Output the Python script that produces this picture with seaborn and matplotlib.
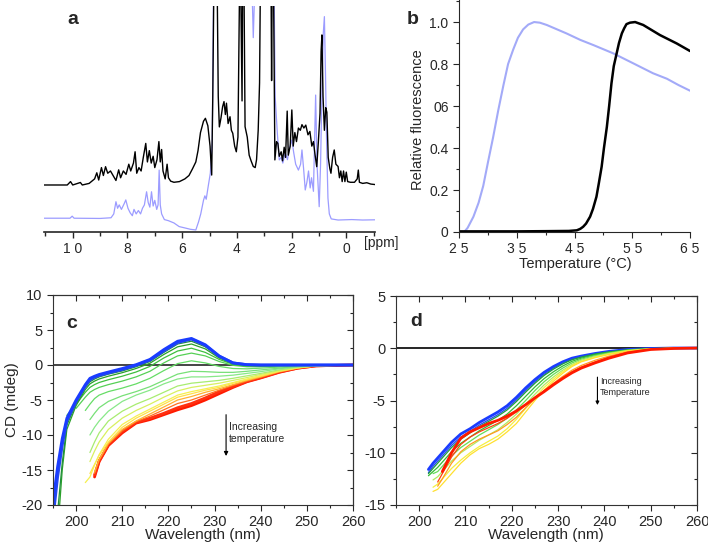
import numpy as np
import matplotlib
matplotlib.use("Agg")
import matplotlib.pyplot as plt
import seaborn as sns

N = np.nan

# ---- panel a: 1H NMR spectra (height above the axis, arbitrary units; >100 is off scale) ----
ppm_black = [11.05, 10.2, 10.08, 10.0, 9.72, 9.65, 9.4, 9.2, 9.12, 9.05, 8.95, 8.88, 8.8, 8.72, 8.62,
             8.5, 8.42, 8.32, 8.25, 8.15, 8.05, 7.95, 7.88, 7.78, 7.72, 7.66, 7.58, 7.5, 7.42, 7.33,
             7.27, 7.2, 7.13, 7.06, 7.0, 6.92, 6.85, 6.8, 6.75, 6.7, 6.62, 6.55, 6.5, 6.42, 6.3,
             6.1, 5.9, 5.75, 5.62, 5.5, 5.42, 5.33, 5.22, 5.15, 5.06, 4.98, 4.92, 4.88, 4.84, 4.72,
             4.68, 4.64, 4.58, 4.52, 4.47, 4.42, 4.38, 4.32, 4.25, 4.2, 4.15, 4.08, 4.02, 3.96, 3.9,
             3.86, 3.81, 3.79, 3.74, 3.7, 3.62, 3.55, 3.48, 3.4, 3.33, 3.28, 3.22, 3.17, 3.14, 2.75,
             2.73, 2.71, 2.66, 2.61, 2.55, 2.5, 2.45, 2.38, 2.33, 2.27, 2.22, 2.16, 2.12, 2.05, 1.99,
             1.94, 1.88, 1.82, 1.75, 1.68, 1.62, 1.55, 1.48, 1.4, 1.33, 1.26, 1.2, 1.14, 1.08, 1.02,
             0.96, 0.92, 0.89, 0.85, 0.8, 0.75, 0.71, 0.66, 0.6, 0.56, 0.5, 0.44, 0.38, 0.3, 0.25,
             0.2, 0.15, 0.1, 0.05, 0.0, -0.05, -0.15, -0.3, -0.4, -0.44, -0.48, -0.6, -0.75, -0.9, -1.05]
int_black = [20.8, 20.8, 22.3, 20.8, 21.9, 20.8, 21.5, 23.5, 26.2, 23.0, 28.5, 25.0, 28.9, 26.0, 27.0,
             24.5, 22.8, 27.5, 24.0, 27.0, 25.5, 30.0, 27.0, 30.5, 35.5, 26.0, 28.5, 27.0, 33.0, 39.2,
             31.0, 36.0, 30.5, 33.5, 28.5, 32.0, 40.0, 31.0, 36.5, 27.0, 23.5, 30.0, 24.0, 22.5, 22.0,
             22.3, 23.5, 25.0, 28.0, 31.0, 36.0, 44.0, 49.0, 50.3, 47.0, 38.0, 25.2, 60.0, 110, 110,
             60.0, 46.5, 50.5, 55.5, 57.7, 52.0, 57.0, 48.0, 51.0, 45.0, 43.7, 38.0, 35.5, 42.0, 110,
             110, 58.0, 110, 110, 46.6, 42.0, 34.0, 31.5, 29.0, 28.5, 32.0, 45.0, 66.0, 110, 110,
             67.0, 110, 110, 31.9, 40.0, 39.2, 33.5, 35.5, 31.5, 37.5, 33.0, 53.5, 34.0, 38.0, 54.0,
             38.0, 44.0, 40.0, 46.0, 45.0, 47.5, 46.0, 47.3, 43.0, 44.5, 38.0, 40.0, 34.0, 28.9, 40.0,
             52.5, 80.0, 87.2, 60.0, 45.0, 55.0, 53.0, 33.0, 28.0, 26.0, 33.0, 36.3, 30.0, 29.0, 24.0,
             27.0, 22.3, 27.0, 22.3, 26.5, 22.3, 22.0, 22.0, 23.5, 27.4, 22.0, 21.5, 21.8, 21.2, 21.0]

ppm_blue = [11.05, 10.1, 10.02, 9.95, 9.0, 8.6, 8.5, 8.42, 8.36, 8.3, 8.22, 8.12, 8.06, 7.98, 7.9,
            7.82, 7.76, 7.68, 7.6, 7.52, 7.45, 7.38, 7.3, 7.24, 7.18, 7.12, 7.06, 7.0, 6.93, 6.88,
            6.84, 6.8, 6.75, 6.65, 6.5, 6.3, 6.11, 5.9, 5.7, 5.5, 5.4, 5.32, 5.22, 5.17, 5.12,
            5.05, 4.97, 4.9, 4.85, 3.45, 3.4, 3.34, 2.64, 2.6, 2.52, 2.45, 2.38, 2.32, 2.23, 2.15,
            2.08, 1.99, 1.92, 1.85, 1.75, 1.67, 1.62, 1.56, 1.5, 1.44, 1.38, 1.32, 1.27, 1.2, 1.15,
            1.12, 1.07, 0.99, 0.94, 0.9, 0.84, 0.8, 0.76, 0.72, 0.67, 0.62, 0.55, 0.3, -0.2, -0.6, -1.05]
int_blue = [6.1, 6.1, 7.0, 6.1, 6.0, 6.3, 8.0, 13.4, 10.5, 12.0, 10.0, 12.5, 14.2, 10.5, 8.5,
            7.2, 10.0, 8.0, 9.5, 8.0, 10.5, 12.0, 17.8, 13.0, 11.0, 17.8, 11.5, 14.0, 10.0, 12.0,
            27.4, 12.0, 8.0, 5.5, 5.0, 4.0, 2.4, 1.8, 1.2, 0.9, 4.5, 8.0, 14.0, 16.0, 14.5,
            20.0, 26.0, 40.0, 110, 110, 86.0, 110, 110, 60.0, 43.7, 31.9, 33.0, 30.5, 35.0, 32.0,
            37.0, 40.7, 35.0, 30.0, 27.4, 30.0, 36.3, 28.0, 18.6, 22.0, 27.0, 19.5, 24.0, 18.0, 45.0,
            60.6, 30.0, 11.2, 30.0, 55.0, 88.0, 95.3, 70.0, 40.0, 15.0, 8.0, 5.8, 5.3, 5.5, 5.3, 5.4]

# ---- panel b: relative fluorescence vs temperature ----
temp_blue = [25.9, 26.5, 27.5, 28.4, 29.2, 30.0, 30.9, 31.8, 32.7, 33.5, 34.4, 35.2, 36.1, 37.0, 38.0,
             39.0, 40.2, 43.6, 46.0, 48.3, 51.7, 55.2, 58.6, 61.0, 63.0, 65.0]
fluo_blue = [0.0, 0.02, 0.073, 0.14, 0.22, 0.33, 0.45, 0.58, 0.7, 0.8, 0.87, 0.925, 0.965, 0.988, 1.0,
             0.997, 0.986, 0.946, 0.915, 0.89, 0.851, 0.803, 0.756, 0.73, 0.7, 0.673]
temp_black = [25.0, 30.0, 35.0, 40.0, 44.0, 45.4, 46.0, 46.5, 47.0, 47.7, 48.2, 48.8, 49.2, 49.7, 50.1,
              50.6, 51.0, 51.4, 51.8, 52.3, 52.7, 53.2, 53.6, 54.0, 54.6, 55.5, 56.9, 59.8, 62.7, 65.0]
fluo_black = [0.003, 0.003, 0.003, 0.004, 0.005, 0.008, 0.015, 0.025, 0.04, 0.073, 0.11, 0.168, 0.23, 0.311, 0.4,
              0.5, 0.6, 0.708, 0.79, 0.851, 0.9, 0.946, 0.97, 0.99, 0.997, 1.0, 0.986, 0.938, 0.898, 0.862]

# ---- panel c: CD spectra, low -> high temperature ----
wl_c = [195, 196, 197, 198, 200, 202, 203, 204, 205, 207, 210, 213, 216, 219, 222, 225, 228, 231, 234,
        237, 240, 244, 248, 252, 260]
cd_c = [
    [-19.5, -14.5, -10.5, -7.6, -5.0, -2.8, -1.9, -1.6, -1.35, -1.0, -0.5, 0.05, 0.8, 2.2, 3.4, 3.8, 2.9, 1.3, 0.3, 0.05, 0, 0, 0, 0, 0],
    [-22, -16, -11.5, -8.0, -5.2, -3.0, -2.1, -1.75, -1.5, -1.15, -0.65, -0.05, 0.7, 2.0, 3.2, 3.7, 2.8, 1.25, 0.3, 0.05, 0, 0, 0, 0, 0],
    [N, -21, -14, -8.6, -5.5, -3.2, -2.4, -2.0, -1.7, -1.3, -0.85, -0.25, 0.5, 1.8, 3.0, 3.4, 2.6, 1.15, 0.25, 0.0, -0.05, 0, 0, 0, 0],
    [N, -24, -15, -9.2, -5.8, -3.5, -2.7, -2.3, -2.0, -1.6, -1.1, -0.5, 0.25, 1.5, 2.6, 3.0, 2.3, 1.0, 0.2, -0.05, -0.1, -0.05, 0, 0, 0],
    [N, N, N, -7.2, -5.6, -3.9, -3.2, -2.8, -2.5, -2.1, -1.6, -1.0, -0.2, 1.0, 2.0, 2.4, 1.8, 0.8, 0.1, -0.15, -0.15, -0.1, -0.05, 0, 0],
    [N, N, N, N, -6.2, -4.6, -3.9, -3.5, -3.2, -2.8, -2.3, -1.7, -0.9, 0.3, 1.3, 1.7, 1.3, 0.5, -0.05, -0.25, -0.25, -0.15, -0.05, 0, 0],
    [N, N, N, N, N, -6.5, -5.6, -4.8, -4.3, -3.8, -3.3, -2.7, -1.9, -0.8, 0.2, 0.6, 0.3, -0.2, -0.5, -0.55, -0.45, -0.3, -0.15, -0.05, 0],
    [N, N, N, N, N, N, -7.8, -6.9, -6.1, -5.2, -4.4, -3.8, -3.1, -2.2, -1.3, -0.9, -0.95, -1.05, -1.05, -0.9, -0.7, -0.45, -0.2, -0.05, 0],
    [N, N, N, N, N, N, -10.0, -8.9, -8.0, -6.6, -5.2, -4.3, -3.6, -2.7, -2.0, -1.7, -1.7, -1.6, -1.45, -1.2, -0.95, -0.55, -0.25, -0.08, 0],
    [N, N, N, N, N, N, -12.5, -11.0, -9.7, -8.0, -6.6, -5.6, -4.8, -3.9, -3.0, -2.6, -2.4, -2.2, -1.9, -1.55, -1.2, -0.7, -0.3, -0.1, 0],
    [N, N, N, N, N, N, -13.8, -12.3, -11.0, -9.2, -7.6, -6.5, -5.6, -4.6, -3.7, -3.2, -2.9, -2.6, -2.2, -1.8, -1.35, -0.8, -0.35, -0.1, 0],
    [N, N, N, N, N, -16.8, -16.0, -14.3, -12.8, -10.6, -8.5, -7.3, -6.3, -5.3, -4.3, -3.8, -3.4, -3.0, -2.5, -2.0, -1.5, -0.85, -0.4, -0.12, 0],
    [N, N, N, N, N, N, -15.5, -14.2, -12.9, -11.0, -8.9, -7.6, -6.6, -5.6, -4.6, -4.1, -3.6, -3.2, -2.6, -2.1, -1.6, -0.9, -0.4, -0.12, 0],
    [N, N, N, N, N, N, N, -15.3, -13.5, -11.2, -9.2, -8.0, -7.0, -6.0, -5.0, -4.5, -3.9, -3.4, -2.8, -2.2, -1.7, -0.95, -0.45, -0.12, 0],
    [N, N, N, N, N, N, N, -15.5, -13.6, -11.3, -9.4, -8.1, -7.3, -6.4, -5.5, -5.0, -4.3, -3.6, -2.9, -2.3, -1.75, -1.0, -0.45, -0.12, 0],
    [N, N, N, N, N, N, N, -15.7, -13.7, -11.4, -9.5, -8.2, -7.6, -6.9, -6.1, -5.5, -4.7, -3.8, -3.1, -2.35, -1.8, -1.0, -0.45, -0.12, 0],
    [N, N, N, N, N, N, N, -16.0, -13.8, -11.5, -9.7, -8.3, -7.8, -7.1, -6.4, -5.8, -5.0, -4.1, -3.2, -2.4, -1.85, -1.05, -0.45, -0.12, 0],
]
colors_c = ["#1a3cff", "#2448f0", "#1f8f3a", "#2aa02a", "#3cbf3c", "#55d055", "#66dd66", "#77e077",
            "#88e888", "#a8ec70", "#d8f060", "#f5f050", "#ffe04a", "#ffb030", "#ff7020", "#ff3010", "#ff1a00"]

# ---- panel d: CD spectra, low -> high temperature ----
wl_d = [202, 203, 204, 205, 207, 209, 211, 213, 215, 217, 219, 221, 223, 225, 227, 229, 231, 233, 235,
        238, 241, 245, 250, 255, 260]
cd_d = [
    [-11.6, -11.0, -10.5, -10.0, -9.0, -8.2, -7.7, -7.1, -6.6, -6.1, -5.5, -4.7, -3.8, -3.0, -2.3, -1.75, -1.3, -0.95, -0.75, -0.5, -0.3, -0.12, -0.02, 0.02, 0.02],
    [-11.9, -11.3, -10.8, -10.3, -9.3, -8.5, -7.95, -7.35, -6.85, -6.35, -5.75, -4.95, -4.05, -3.2, -2.5, -1.9, -1.4, -1.05, -0.8, -0.55, -0.33, -0.14, -0.03, 0.01, 0.02],
    [-12.0, -11.5, -11.0, -10.5, -9.5, -8.7, -8.1, -7.5, -7.0, -6.5, -5.9, -5.1, -4.2, -3.35, -2.6, -2.0, -1.5, -1.1, -0.85, -0.55, -0.35, -0.15, -0.03, 0.0, 0.02],
    [-12.2, -11.8, -11.4, -10.9, -9.9, -9.1, -8.5, -7.9, -7.4, -6.9, -6.3, -5.5, -4.6, -3.7, -2.9, -2.25, -1.7, -1.25, -0.95, -0.62, -0.4, -0.17, -0.04, 0.0, 0.02],
    [N, -12.0, -11.8, -11.3, -10.3, -9.5, -8.9, -8.3, -7.8, -7.3, -6.7, -5.9, -5.0, -4.05, -3.2, -2.5, -1.9, -1.4, -1.05, -0.7, -0.45, -0.2, -0.05, 0.0, 0.02],
    [N, -12.6, -12.3, -11.8, -10.8, -10.0, -9.4, -8.8, -8.3, -7.8, -7.1, -6.3, -5.35, -4.4, -3.5, -2.75, -2.1, -1.55, -1.15, -0.78, -0.5, -0.22, -0.06, 0.0, 0.02],
    [N, -13.3, -13.0, -12.5, -11.5, -10.7, -10.0, -9.4, -8.9, -8.4, -7.7, -6.8, -5.75, -4.7, -3.75, -2.95, -2.25, -1.65, -1.25, -0.85, -0.55, -0.25, -0.07, 0.0, 0.02],
    [N, -13.7, -13.5, -13.0, -12.0, -11.0, -10.2, -9.6, -9.2, -8.7, -8.0, -7.2, -6.1, -5.0, -4.0, -3.15, -2.4, -1.75, -1.3, -0.9, -0.6, -0.27, -0.08, 0.0, 0.02],
    [N, N, -13.2, -12.5, -11.0, -9.9, -9.2, -8.7, -8.3, -7.9, -7.3, -6.6, -5.7, -4.85, -4.05, -3.35, -2.7, -2.1, -1.65, -1.15, -0.75, -0.35, -0.1, 0.0, 0.02],
    [N, N, -12.8, -12.0, -10.4, -9.2, -8.5, -8.0, -7.6, -7.2, -6.7, -6.1, -5.4, -4.7, -4.05, -3.4, -2.8, -2.25, -1.8, -1.3, -0.85, -0.4, -0.11, -0.01, 0.02],
    [N, N, N, -11.8, -10.0, -8.6, -8.0, -7.6, -7.2, -6.9, -6.5, -6.0, -5.4, -4.75, -4.15, -3.5, -2.9, -2.35, -1.9, -1.4, -0.95, -0.45, -0.12, -0.02, 0.02],
]
colors_d = ["#1a3cff", "#2448f0", "#1f9f3a", "#33bb33", "#66dd55", "#b0ec60", "#f5f040", "#ffe030",
            "#ff9a20", "#ff4010", "#ff1a00"]

sns.set_style("ticks")
plt.rcParams["font.family"] = ["Liberation Sans", "DejaVu Sans"]
plt.rcParams["axes.unicode_minus"] = False

W, H = 708, 548
fig = plt.figure(figsize=(W / 100, H / 100), dpi=100)


def box(l, t, r, b):
    return [l / W, 1 - b / H, (r - l) / W, (b - t) / H]


# ---------- a ----------
ax_a = fig.add_axes(box(44, 6, 375, 232))
sns.lineplot(x=ppm_blue, y=int_blue, sort=False, estimator=None, color="#9c9cff", lw=0.9, ax=ax_a)
sns.lineplot(x=ppm_black, y=int_black, sort=False, estimator=None, color="black", lw=1.0, ax=ax_a)
ax_a.set_xlim(11.05, -1.05)
ax_a.set_ylim(0, 100)
ax_a.set_yticks([])
for s in ["left", "top", "right"]:
    ax_a.spines[s].set_visible(False)
ax_a.spines["bottom"].set_linewidth(1.2)
ax_a.set_xticks([10, 8, 6, 4, 2, 0])
ax_a.set_xticklabels(["1 0", "8", "6", "4", "2", "0"], fontsize=10)
ax_a.set_xticks([11, 9, 7, 5, 3, 1, -1], minor=True)
ax_a.tick_params(which="major", length=4, width=1)
ax_a.tick_params(which="minor", length=3, width=1)
ax_a.text(1.018, -0.05, "[ppm]", transform=ax_a.transAxes, ha="center", va="center", fontsize=10)

# ---------- b ----------
ax_b = fig.add_axes(box(459, 0, 690, 232))
sns.lineplot(x=temp_blue, y=fluo_blue, color="#a3aaf8", lw=1.5, ax=ax_b)
sns.lineplot(x=temp_black, y=fluo_black, color="black", lw=1.8, ax=ax_b)
ax_b.set_xlim(25, 65)
ax_b.set_ylim(0, 1.105)
for s in ["top", "right"]:
    ax_b.spines[s].set_visible(False)
ax_b.set_xticks([25, 35, 45, 55, 65])
ax_b.set_xticklabels(["2 5", "3 5", "4 5", "5 5", "6 5"], fontsize=10)
ax_b.set_xticks([30, 40, 50, 60], minor=True)
ax_b.set_yticks([0, 0.2, 0.4, 0.6, 0.8, 1.0])
ax_b.set_yticklabels(["0", "0.2", "0.4", "06", "0.8", "1.0"], fontsize=10)
ax_b.set_yticks([0.1, 0.3, 0.5, 0.7, 0.9, 1.1], minor=True)
ax_b.tick_params(which="major", length=4, width=0.8)
ax_b.tick_params(which="minor", length=2.5, width=0.8)
fig.text(418 / W, 1 - 120 / H, "Relative fluorescence", rotation=90, ha="center", va="center", fontsize=10.5)
fig.text(575 / W, 1 - 264 / H, "Temperature (°C)", ha="center", va="center", fontsize=10.5)


# ---------- c & d ----------
def cd_axes(ax, ymin, ymax, yticks):
    ax.set_xlim(195, 260)
    ax.set_ylim(ymin, ymax)
    ax.set_xticks(range(200, 261, 10))
    ax.set_xticks(range(195, 261, 5), minor=True)
    ax.set_yticks(yticks)
    ax.set_yticks(np.arange(ymin, ymax + 0.1, 2.5), minor=True)
    ax.tick_params(which="major", length=4, width=0.8, labelsize=10.5)
    ax.tick_params(which="minor", length=2, width=0.8)
    for s in ax.spines.values():
        s.set_linewidth(0.8)
        s.set_color("#333333")
    top = ax.secondary_xaxis("top")
    top.set_xticks(range(200, 261, 10))
    top.set_xticks(range(195, 261, 5), minor=True)
    top.tick_params(which="both", direction="in", labeltop=False, width=0.8)
    top.tick_params(which="major", length=4)
    top.tick_params(which="minor", length=2)
    right = ax.secondary_yaxis("right")
    right.set_yticks(yticks)
    right.set_yticks(np.arange(ymin, ymax + 0.1, 2.5), minor=True)
    right.tick_params(which="both", direction="in", labelright=False, width=0.8)
    right.tick_params(which="major", length=4)
    right.tick_params(which="minor", length=2)


ax_c = fig.add_axes(box(53, 295, 353, 505))
ax_c.axhline(0, color="#444444", lw=1.4, zorder=1)
for curve, col, k in zip(reversed(cd_c), reversed(colors_c), range(len(cd_c))):
    lw = 2.0 if col in ("#1a3cff", "#2448f0", "#ff1a00", "#ff3010") else 0.9
    sns.lineplot(x=wl_c, y=curve, color=col, lw=lw, ax=ax_c)
cd_axes(ax_c, -20, 10, [-20, -15, -10, -5, 0, 5, 10])
ax_c.annotate("", xy=(232.5, -13.4), xytext=(232.5, -6.7),
              arrowprops=dict(arrowstyle="-|>", lw=0.8, color="black", mutation_scale=6))
ax_c.text(233.2, -9.7, "Increasing\ntemperature", fontsize=7.5, ha="left", va="center", linespacing=1.3)
fig.text(12 / W, 1 - 400 / H, "CD (mdeg)", rotation=90, ha="center", va="center", fontsize=11)
fig.text(203 / W, 1 - 535 / H, "Wavelength (nm)", ha="center", va="center", fontsize=11)

ax_d = fig.add_axes(box(396, 296, 697, 505))
ax_d.axhline(0, color="black", lw=1.2, zorder=1)
for curve, col in zip(cd_d, colors_d):
    lw = 2.0 if col in ("#1a3cff", "#ff1a00") else 0.9
    sns.lineplot(x=wl_d, y=curve, color=col, lw=lw, ax=ax_d)
cd_axes(ax_d, -15, 5, [-15, -10, -5, 0, 5])
ax_d.annotate("", xy=(238.5, -5.7), xytext=(238.5, -2.5),
              arrowprops=dict(arrowstyle="-|>", lw=0.8, color="black", mutation_scale=5))
ax_d.text(239.0, -3.7, "Increasing\nTemperature", fontsize=6.5, ha="left", va="center", linespacing=1.3)
fig.text(546 / W, 1 - 535 / H, "Wavelength (nm)", ha="center", va="center", fontsize=11)

for lab, x, y in [("a", 73, 20), ("b", 413, 19), ("c", 72, 323), ("d", 416, 322)]:
    fig.text(x / W, 1 - y / H, lab, fontsize=14, fontweight="bold", ha="center", va="center")

for ax in [ax_a, ax_b, ax_c, ax_d]:
    ax.set_xlabel("")
    ax.set_ylabel("")

fig.savefig("out.png", dpi=100)
